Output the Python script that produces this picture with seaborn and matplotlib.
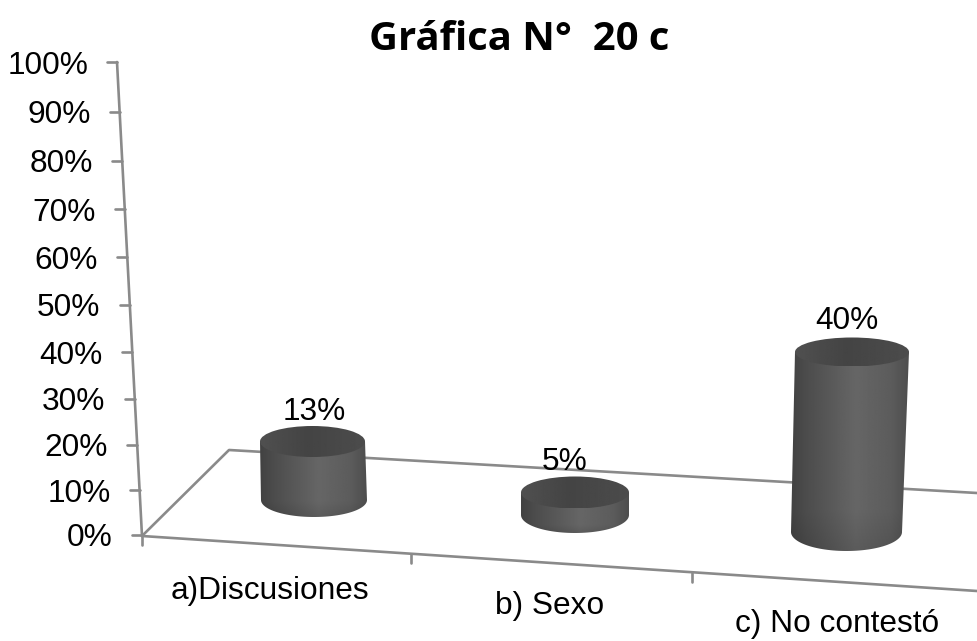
import numpy as np
import matplotlib
matplotlib.use("Agg")
import matplotlib.pyplot as plt
from matplotlib.path import Path
from matplotlib.patches import PathPatch, Ellipse
from matplotlib.ticker import FuncFormatter
import seaborn as sns

categories = ["a)Discusiones", "b) Sexo", "c) No contestó"]
values = [13, 5, 40]
y_ticks = [0, 10, 20, 30, 40, 50, 60, 70, 80, 90, 100]
title = "Gráfica N°  20 c"

# layout only (pixels of a 977x641 canvas)
W, H = 977, 641
AX_L, AX_R, AX_T, AX_B = 142, 977, 62, 535
base_lift_px = [35, 20, 3]
top_cx = [312.5, 575, 852]
base_cx = [314, 575, 846.5]
top_hw = [52.5, 54, 57]
base_hw = [53, 54, 55.5]
top_ry = [15.5, 16, 14.5]
base_ry = [17, 18, 19]
label_cx = [314, 565, 847]
label_up = [30, 30, 31]
xlabel_cx = [270, 550, 837]
xlabel_cy = [592, 607, 625]
PX_PER_PCT = 4.5
LINE = "#8a8a8a"

sns.set_style("white")
plt.rcParams["font.family"] = ["Liberation Sans", "DejaVu Sans"]
FS = 22.8

fig = plt.figure(figsize=(W / 100, H / 100), dpi=100, facecolor="white")
rect = [AX_L / W, 1 - AX_B / H, (AX_R - AX_L) / W, (AX_B - AX_T) / H]

# percent axis: the 3D view compresses the lower part of the scale a little
ax = fig.add_axes(rect, zorder=1)
a, b = 4.47, 0.0026
ax.set_yscale("function", functions=(
    lambda v: a * np.asarray(v) + b * np.asarray(v) ** 2,
    lambda s: (-a + np.sqrt(a * a + 4 * b * np.maximum(s, 0))) / (2 * b),
))
ax.set_ylim(0, 100)
ax.set_xlim(AX_L, AX_R)
ax.set_yticks(y_ticks)
ax.yaxis.set_major_formatter(FuncFormatter(lambda v, _: f"{v:.0f}%"))
ax.set_xticks(xlabel_cx, labels=categories)
ax.minorticks_off()
ax.tick_params(length=0, labelsize=FS, labelcolor="black")
for s in ax.spines.values():
    s.set_visible(False)
ax.patch.set_alpha(0)


def axis_x(v):
    return AX_L - 25 * v / 100


for v, t in zip(y_ticks, ax.yaxis.get_major_ticks()):
    t.set_pad((AX_L - axis_x(v) + 29) * 0.72)
for cy, t in zip(xlabel_cy, ax.xaxis.get_major_ticks()):
    t.set_pad((cy - AX_B - 16) * 0.72)

# bars, on their own percent scale
ax_bar = fig.add_axes(rect, zorder=2)
lifts = [p / PX_PER_PCT for p in base_lift_px]
sns.barplot(x=categories, y=values, bottom=lifts, color="#666666", width=0.4,
            saturation=1, ax=ax_bar)
ax_bar.set_ylim(0, (AX_B - AX_T) / PX_PER_PCT)
ax_bar.set_xlim(-0.5, 2.5)
ax_bar.axis("off")
fig.canvas.draw()

# overlay in canvas pixels for the floor, the tilted axis and the cylinder shading
ov = fig.add_axes([0, 0, 1, 1], zorder=3)
ov.patch.set_alpha(0)
ov.axis("off")


def line(xs, ys, **kw):
    ov.plot(xs, ys, color=LINE, lw=1.9, solid_capstyle="round", zorder=1, **kw)


line([axis_x(100), AX_L], [AX_T, AX_B + 1])
for v in y_ticks:
    py = H - ax.transData.transform((AX_L, v))[1]
    line([axis_x(v) - 10, axis_x(v)], [py, py])
line([142, 977], [536, 591])
line([142, 229, 977], [536, 450, 493])
for x0, y0 in [(142, 536), (411, 554), (692, 573)]:
    line([x0, x0], [y0, y0 + 9])

stops_u = [0, 0.12, 0.55, 0.85, 1]
stops_g = [66, 76, 102, 92, 78]
for i, patch in enumerate(ax_bar.patches):
    h = patch.get_height()
    yb = H - ax_bar.transData.transform((0, patch.get_y()))[1]
    yt = H - ax_bar.transData.transform((0, patch.get_y() + h))[1]
    # narrow the plain bar to sit inside the cylinder
    ct, cb, ht, hb, rt, rb = top_cx[i], base_cx[i], top_hw[i], base_hw[i], top_ry[i], base_ry[i]
    left = max(ct - ht, cb - hb)
    right = min(ct + ht, cb + hb)
    inv = ax_bar.transData.inverted()
    x0 = inv.transform((left, 0))[0]
    x1 = inv.transform((right, 0))[0]
    patch.set_x(x0)
    patch.set_width(x1 - x0)

    th = np.linspace(np.pi, 0, 60)
    arc = np.column_stack([cb + hb * np.cos(th), yb + rb * np.sin(th)])
    verts = np.vstack([[ct - ht, yt], arc, [ct + ht, yt], [ct - ht, yt]])
    clip = PathPatch(Path(verts), transform=ov.transData, fc="none", ec="none")
    ov.add_patch(clip)
    xa, xb = min(ct - ht, cb - hb), max(ct + ht, cb + hb)
    u = np.linspace(0, 1, 200)
    g = np.interp(u, stops_u, stops_g)
    rows = np.linspace(0, 1, 60)
    shade = np.where(rows > 0.8, 1 - (rows - 0.8) * 0.5, 1.0)
    img = np.outer(shade, g)
    im = ov.imshow(img, extent=[xa, xb, yb + rb, yt], cmap="gray", vmin=0, vmax=255,
                   aspect="auto", zorder=2, interpolation="bilinear")
    im.set_clip_path(clip)

    top = Ellipse((ct, yt), 2 * ht, 2 * rt, transform=ov.transData, fc="none", ec="none")
    ov.add_patch(top)
    g2 = np.interp(u, [0, 0.45, 1], [80, 68, 76])
    im2 = ov.imshow(g2[None, :], extent=[ct - ht, ct + ht, yt + rt, yt - rt], cmap="gray",
                    vmin=0, vmax=255, aspect="auto", zorder=3, interpolation="bilinear")
    im2.set_clip_path(top)

    ov.text(label_cx[i], yt - label_up[i], f"{values[i]}%", ha="center", va="center",
            fontsize=FS, color="black", zorder=4)

ov.set_xlim(0, W)
ov.set_ylim(H, 0)

fig.text(519 / W, 1 - 39 / H, title, ha="center", va="center", fontsize=28.8,
         fontweight="bold", family=["Open Sans", "DejaVu Sans"], color="black")

fig.savefig("out.png", dpi=100)
